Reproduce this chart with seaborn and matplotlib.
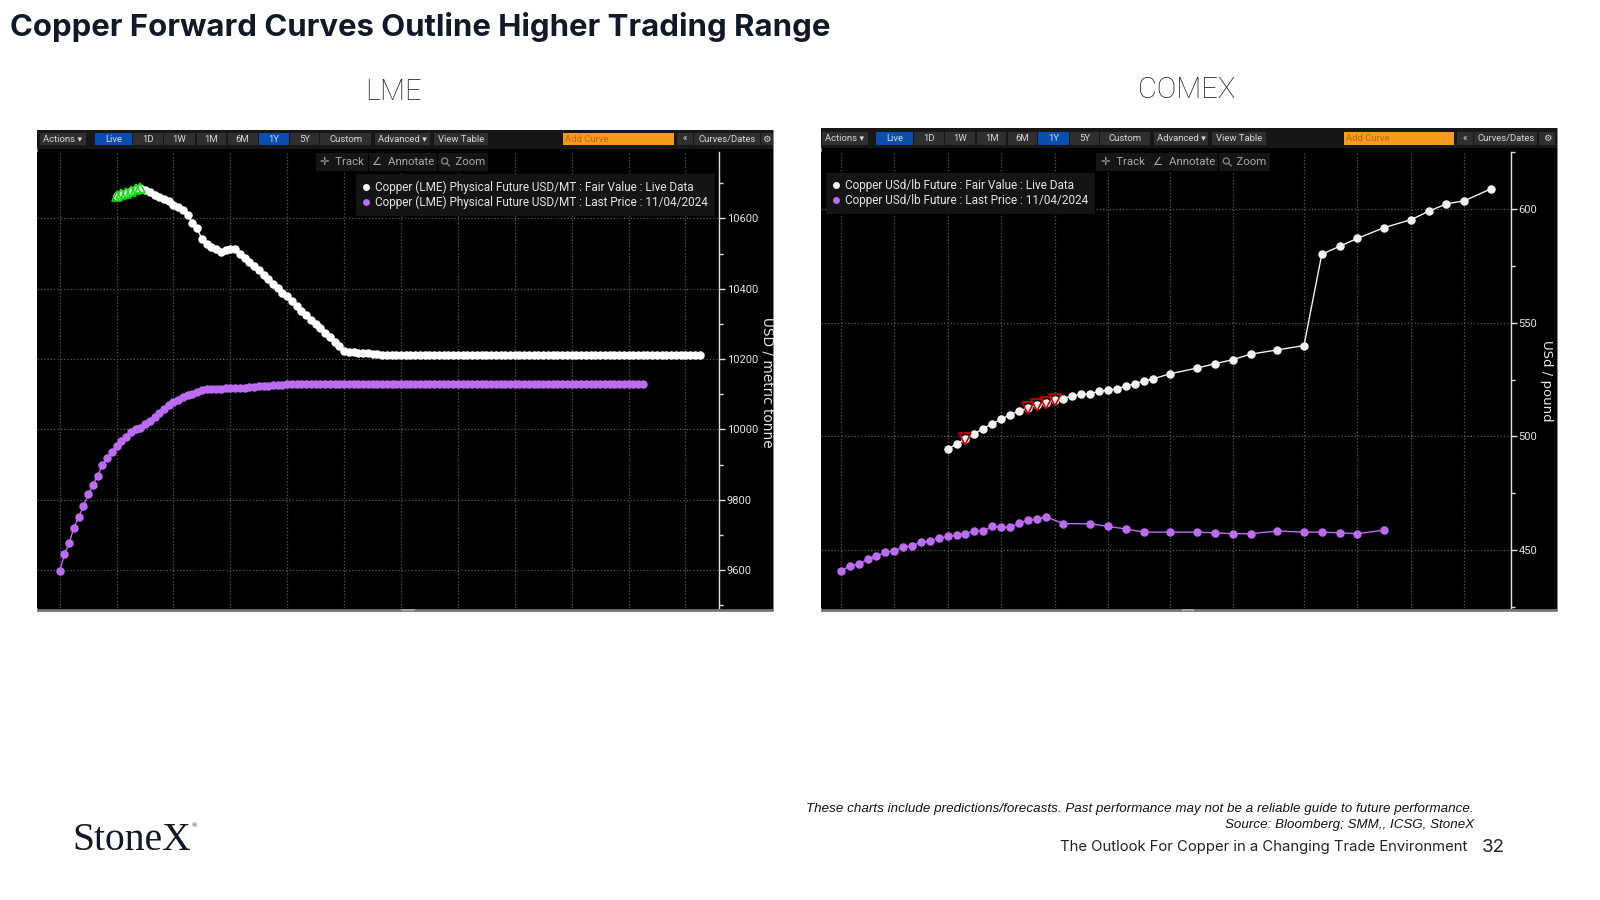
import numpy as np
import pandas as pd
import matplotlib
matplotlib.use("Agg")
import matplotlib.pyplot as plt
from matplotlib.lines import Line2D
from matplotlib.patches import Circle, Rectangle
import seaborn as sns

# LME forward curves, USD per metric tonne, one value per monthly contract
lme_last_start = 0
lme_last = [
    9597, 9645, 9677, 9720, 9751, 9781, 9815, 9842, 9868, 9899,
    9920, 9937, 9953, 9967, 9978, 9993, 10000, 10005, 10015, 10025,
    10036, 10046, 10058, 10069, 10079, 10085, 10091, 10097, 10101, 10107,
    10112, 10114, 10115, 10115, 10116, 10117, 10117, 10117, 10117, 10119,
    10120, 10122, 10123, 10124, 10124, 10125, 10126, 10127, 10128, 10128,
    10128, 10128, 10128, 10128, 10128, 10128, 10128, 10128, 10128, 10128,
    10128, 10128, 10128, 10128, 10128, 10128, 10128, 10128, 10128, 10128,
    10128, 10128, 10128, 10128, 10128, 10128, 10128, 10128, 10128, 10128,
    10128, 10128, 10128, 10128, 10128, 10128, 10128, 10128, 10128, 10128,
    10128, 10128, 10128, 10128, 10128, 10128, 10128, 10128, 10128, 10128,
    10128, 10128, 10128, 10128, 10128, 10128, 10128, 10128, 10128, 10128,
    10128, 10128, 10128, 10128, 10128, 10128, 10128, 10128, 10128, 10128,
    10128, 10128, 10128, 10128,
]
lme_fair_start = 12
lme_fair = [
    10665, 10669, 10673, 10677, 10683, 10687, 10681, 10674, 10668, 10661,
    10655, 10650, 10639, 10632, 10623, 10611, 10588, 10572, 10541, 10526,
    10518, 10512, 10505, 10510, 10513, 10512, 10500, 10487, 10475, 10464,
    10452, 10440, 10428, 10413, 10401, 10389, 10379, 10365, 10351, 10338,
    10326, 10312, 10300, 10287, 10274, 10262, 10250, 10236, 10222, 10220,
    10219, 10218, 10217, 10216, 10215, 10214, 10213, 10212, 10212, 10212,
    10212, 10212, 10212, 10212, 10212, 10212, 10212, 10212, 10212, 10212,
    10212, 10212, 10212, 10212, 10212, 10212, 10212, 10212, 10212, 10212,
    10212, 10212, 10212, 10212, 10212, 10212, 10212, 10212, 10212, 10212,
    10212, 10212, 10212, 10212, 10212, 10212, 10212, 10212, 10212, 10212,
    10212, 10212, 10212, 10212, 10212, 10212, 10212, 10212, 10212, 10212,
    10212, 10212, 10212, 10212, 10212, 10212, 10212, 10212, 10212, 10212,
    10212, 10212, 10212, 10212,
]
lme_up_months = [12, 13, 14, 15, 16, 17]
lme_grid_months = [0, 12, 24, 36, 48, 60, 72, 84, 96, 108, 120, 132]
lme_major = [9600, 9800, 10000, 10200, 10400, 10600]
lme_minor = [9500, 9700, 9900, 10100, 10300, 10500, 10700]

# COMEX forward curves, US cents per pound
comex_last_months = list(range(24)) + [25, 28, 30, 32, 34, 37, 40, 42, 44, 46, 49, 52, 54, 56, 58, 61]
comex_last = [
    440.7, 443.0, 443.8, 445.9, 447.4, 449.0, 449.7, 451.2, 452.0, 453.4,
    454.0, 455.1, 456.0, 456.5, 457.2, 458.4, 458.4, 460.4, 460.0, 460.0,
    461.8, 463.2, 463.5, 464.7, 461.6, 461.6, 460.4, 459.3, 457.9, 457.9,
    457.9, 457.6, 457.2, 457.2, 458.4, 457.9, 457.9, 457.6, 457.2, 458.8,
]
comex_fair_months = list(range(12, 36)) + [37, 40, 42, 44, 46, 49, 52, 54, 56, 58, 61, 64, 66, 68, 70, 73]
comex_fair = [
    494.4, 496.7, 498.8, 501.2, 503.5, 505.6, 507.6, 509.5, 511.2, 512.5,
    513.7, 514.7, 515.9, 516.7, 517.8, 518.5, 518.9, 519.8, 520.4, 520.9,
    522.2, 523.1, 524.4, 525.3, 527.6, 530.1, 532.0, 533.8, 536.2, 538.1,
    540.0, 580.2, 583.7, 587.2, 591.9, 595.4, 599.1, 602.4, 603.7, 609.0,
]
comex_down_months = [14, 21, 22, 23, 24]
comex_grid_months = [0, 6, 12, 18, 24, 30, 37, 44, 52, 58, 64, 70]
comex_major = [450, 500, 550, 600]
comex_minor = [425, 475, 525, 575, 625]

title = "Copper Forward Curves Outline Higher Trading Range"
toolbar_labels = ["Actions ▾", "Live", "1D", "1W", "1M", "6M", "1Y", "5Y", "Custom",
                  "Advanced ▾", "View Table", "Add Curve", "«", "Curves/Dates", "⚙"]
tool_labels = ["✛  Track", "∠  Annotate", "     Zoom"]
lme_legend = ["Copper (LME) Physical Future USD/MT : Fair Value : Live Data",
              "Copper (LME) Physical Future USD/MT : Last Price : 11/04/2024"]
comex_legend = ["Copper USd/lb Future : Fair Value : Live Data",
                "Copper USd/lb Future : Last Price : 11/04/2024"]

WHITE = "#ffffff"
PURPLE = "#bd6bf2"
TERMINAL = ["Roboto", "DejaVu Sans"]

sns.set_theme(style="dark", rc={"axes.facecolor": "black", "figure.facecolor": "white"})
plt.rcParams["font.family"] = ["Inter", "DejaVu Sans"]

fig = plt.figure(figsize=(16, 9), dpi=100)


def fx(x):
    return x / 1600


def fy(y):
    return 1 - y / 900


def box(x0, y0, x1, y1, color, zorder=1, **kw):
    fig.add_artist(Rectangle((fx(x0), fy(y1)), (x1 - x0) / 1600, (y1 - y0) / 900,
                             transform=fig.transFigure, facecolor=color,
                             edgecolor=kw.pop("edgecolor", "none"), zorder=zorder, **kw))


def label(x, y, s, **kw):
    kw.setdefault("ha", "center")
    kw.setdefault("va", "center")
    fig.text(fx(x), fy(y), s, **kw)


def curve(ax, x, y, color):
    frame = pd.DataFrame({"month": x, "price": y})
    sns.lineplot(data=frame, x="month", y="price", ax=ax, color=color, linewidth=1.0,
                 marker="o", markersize=6.1, markeredgewidth=0, errorbar=None, zorder=4)


def flags(ax, months, series_months, series, marker, color, size):
    lookup = dict(zip(series_months, series))
    frame = pd.DataFrame({"month": months, "price": [lookup[m] for m in months]})
    sns.lineplot(data=frame, x="month", y="price", ax=ax, linestyle="none", marker=marker,
                 markersize=size, markerfacecolor="none", markeredgecolor=color,
                 markeredgewidth=1.2, errorbar=None, zorder=5)


def panel(left, top, right, bottom, axis_x, x0_px, step_px, ylim, bump):
    box(left, top, right, bottom, "black", zorder=-1, edgecolor="#8a8a8a", linewidth=0.6)
    box(left, bottom - 2.5, right, bottom, "#6e6e6e", zorder=2)
    box(bump[0], bottom - 2.5, bump[1], bottom, "#a0a0a0", zorder=3)
    ax = fig.add_axes([fx(left), fy(608), (axis_x - left) / 1600, (608 - 152) / 900])
    ax.set_xlim((left - x0_px) / step_px, (axis_x - x0_px) / step_px)
    ax.set_ylim(*ylim)
    return ax


def finish(ax, grid_months, major, minor, tick_size):
    ax.set_xlim(ax.get_xlim())
    ax.set_xticks(grid_months)
    ax.set_xticklabels([])
    ax.set_yticks(major)
    ax.set_yticks(minor, minor=True)
    ax.set_xlabel("")
    ax.set_ylabel("")
    ax.grid(True, which="major", linestyle=":", color="#5c5c5c", linewidth=0.9, zorder=0)
    ax.set_axisbelow(True)
    for side in ("top", "bottom", "left"):
        ax.spines[side].set_visible(False)
    ax.spines["right"].set_visible(True)
    ax.spines["right"].set_color("#e0e0e0")
    ax.spines["right"].set_linewidth(1.0)
    ax.tick_params(axis="x", length=0, bottom=False)
    ax.tick_params(axis="y", which="both", left=False, right=True, labelleft=False,
                   labelright=True, direction="out", color="#e0e0e0", width=1.0)
    ax.tick_params(axis="y", which="major", length=4, pad=1.5, labelcolor="#e4e4e4",
                   labelsize=tick_size)
    ax.tick_params(axis="y", which="minor", length=3)
    for t in ax.get_yticklabels():
        t.set_family(TERMINAL)


def toolbar(top, bottom, panel_left, panel_right, btn_top, btn_bottom, edges):
    box(panel_left, top, panel_right, bottom, "#171717", zorder=2)
    for name, (x0, x1) in zip(toolbar_labels, edges):
        color = "#2f2f2f"
        text_color = "#d8d8d8"
        if name in ("Live", "1Y"):
            color = "#0a4fb0"
        if name == "Add Curve":
            color = "#f79a1e"
            text_color = "#b86a10"
        box(x0, btn_top, x1, btn_bottom, color, zorder=3)
        if name == "Add Curve":
            label(x0 + 2, (btn_top + btn_bottom) / 2, name, ha="left", color=text_color,
                  fontsize=6.8, family=TERMINAL, zorder=4)
        else:
            label((x0 + x1) / 2, (btn_top + btn_bottom) / 2, name, color=text_color,
                  fontsize=6.8, family=TERMINAL, zorder=4)


def tools(edges, y0, y1):
    for name, (x0, x1) in zip(tool_labels, edges):
        box(x0, y0, x1, y1, "#151515", zorder=3)
        label((x0 + x1) / 2, (y0 + y1) / 2, name, color="#a8a8a8", fontsize=8.2,
              family=TERMINAL, zorder=4)
    # Magnifier icon on the Zoom button
    x0 = edges[2][0] + 7
    ym = (y0 + y1) / 2 - 1
    fig.add_artist(Circle((x0, 900 - ym), 3, transform=None, facecolor="none",
                          edgecolor="#8a8a8a", linewidth=0.9, zorder=5))
    fig.add_artist(Line2D([fx(x0 + 2), fx(x0 + 5)], [fy(ym + 2), fy(ym + 5)],
                          transform=fig.transFigure, color="#8a8a8a", linewidth=0.9, zorder=5))


def legend(ax, labels, x, y, size):
    handles = [Line2D([], [], linestyle="none", marker="o", markersize=5, color=c,
                      markeredgewidth=0) for c in (WHITE, PURPLE)]
    lg = ax.legend(handles, labels, loc="upper left", bbox_to_anchor=(fx(x), fy(y)),
                   bbox_transform=fig.transFigure, borderaxespad=0, frameon=True,
                   facecolor="#141414", edgecolor="none", framealpha=1, fancybox=False,
                   labelcolor="#e4e4e4", handlelength=0.6, handletextpad=0.5,
                   labelspacing=0.15, borderpad=0.55,
                   prop={"family": TERMINAL, "size": size})
    lg.set_zorder(10)


def scale(offset, values):
    return [(offset + a / 2.09, offset + b / 2.09) for a, b in values]


# LME panel
ax1 = panel(37, 130, 773, 611, 719, 59.7, 4.74, (9492, 10789), (401, 415))
flags(ax1, lme_up_months, list(range(lme_fair_start, lme_fair_start + len(lme_fair))), lme_fair, "^", "#12e012", 7.5)
curve(ax1, np.arange(lme_last_start, lme_last_start + len(lme_last)), lme_last, PURPLE)
curve(ax1, np.arange(lme_fair_start, lme_fair_start + len(lme_fair)), lme_fair, WHITE)
finish(ax1, lme_grid_months, lme_major, lme_minor, 8)
legend(ax1, lme_legend, 356, 174, 8.5)

# COMEX panel
ax2 = panel(821, 128, 1557, 611, 1511, 840.8, 8.907, (424.5, 625.2), (1182, 1194))
curve(ax2, comex_last_months, comex_last, PURPLE)
curve(ax2, comex_fair_months, comex_fair, "#f2f2f2")
flags(ax2, comex_down_months, comex_fair_months, comex_fair, "v", "#d00000", 8)
finish(ax2, comex_grid_months, comex_major, comex_minor, 8)
legend(ax2, comex_legend, 825.5, 173, 8.5)

# Terminal chrome above each chart
toolbar(130, 149, 37, 773, 133, 145, scale(30, [
    (20, 117), (136, 213), (216, 278), (280, 345), (348, 410), (413, 476), (479, 541),
    (543, 605), (607, 713), (721, 837), (845, 957), (1113, 1345), (1353, 1385),
    (1387, 1525), (1527, 1552)]))
toolbar(128, 148, 821, 1557, 132, 145, scale(815, [
    (14, 110), (128, 205), (207, 270), (272, 335), (338, 400), (403, 465), (467, 530),
    (532, 594), (596, 700), (708, 822), (830, 942), (1105, 1335), (1342, 1375),
    (1377, 1510), (1513, 1547)]))
tools(scale(30, [(597, 707), (709, 850), (852, 958)]), 153, 171)
tools(scale(815, [(588, 700), (701, 843), (845, 950)]), 153, 171)

# Rotated unit captions
label(767, 382, "USD / metric tonne", rotation=270, color="#dfe8ee", fontsize=9.8, family="DejaVu Sans", zorder=6)
label(1547, 381, "USd / pound", rotation=270, color="#dfe8ee", fontsize=9.5, family="DejaVu Sans", zorder=6)

# Slide text
label(10, 27, title, ha="left", fontsize=22.4, fontweight="bold", color="#111827", family="Inter")
label(393, 92, "LME", fontsize=21, fontweight="light", color="#1a1a1a", family="Roboto")
label(1187, 90, "COMEX", fontsize=21, fontweight="light", color="#1a1a1a", family="Roboto")
label(1474, 809, "These charts include predictions/forecasts. Past performance may not be a reliable guide to future performance.",
      ha="right", fontsize=9.6, style="italic", color="#111111", family="Liberation Sans")
label(1474, 825, "Source: Bloomberg; SMM,, ICSG, StoneX", ha="right", fontsize=9.6, style="italic",
      color="#111111", family="Liberation Sans")
label(1467, 847, "The Outlook For Copper in a Changing Trade Environment", ha="right", fontsize=10.7,
      color="#222222", family="Inter")
label(1493, 847, "32", fontsize=13.5, color="#222222", family="Inter")
label(72, 840, "StoneX", ha="left", fontsize=28.5, color="#111827", family="Liberation Serif")
label(192, 826, "®", ha="left", fontsize=5, color="#111827", family="Liberation Serif")

fig.savefig("out.png", dpi=100)
